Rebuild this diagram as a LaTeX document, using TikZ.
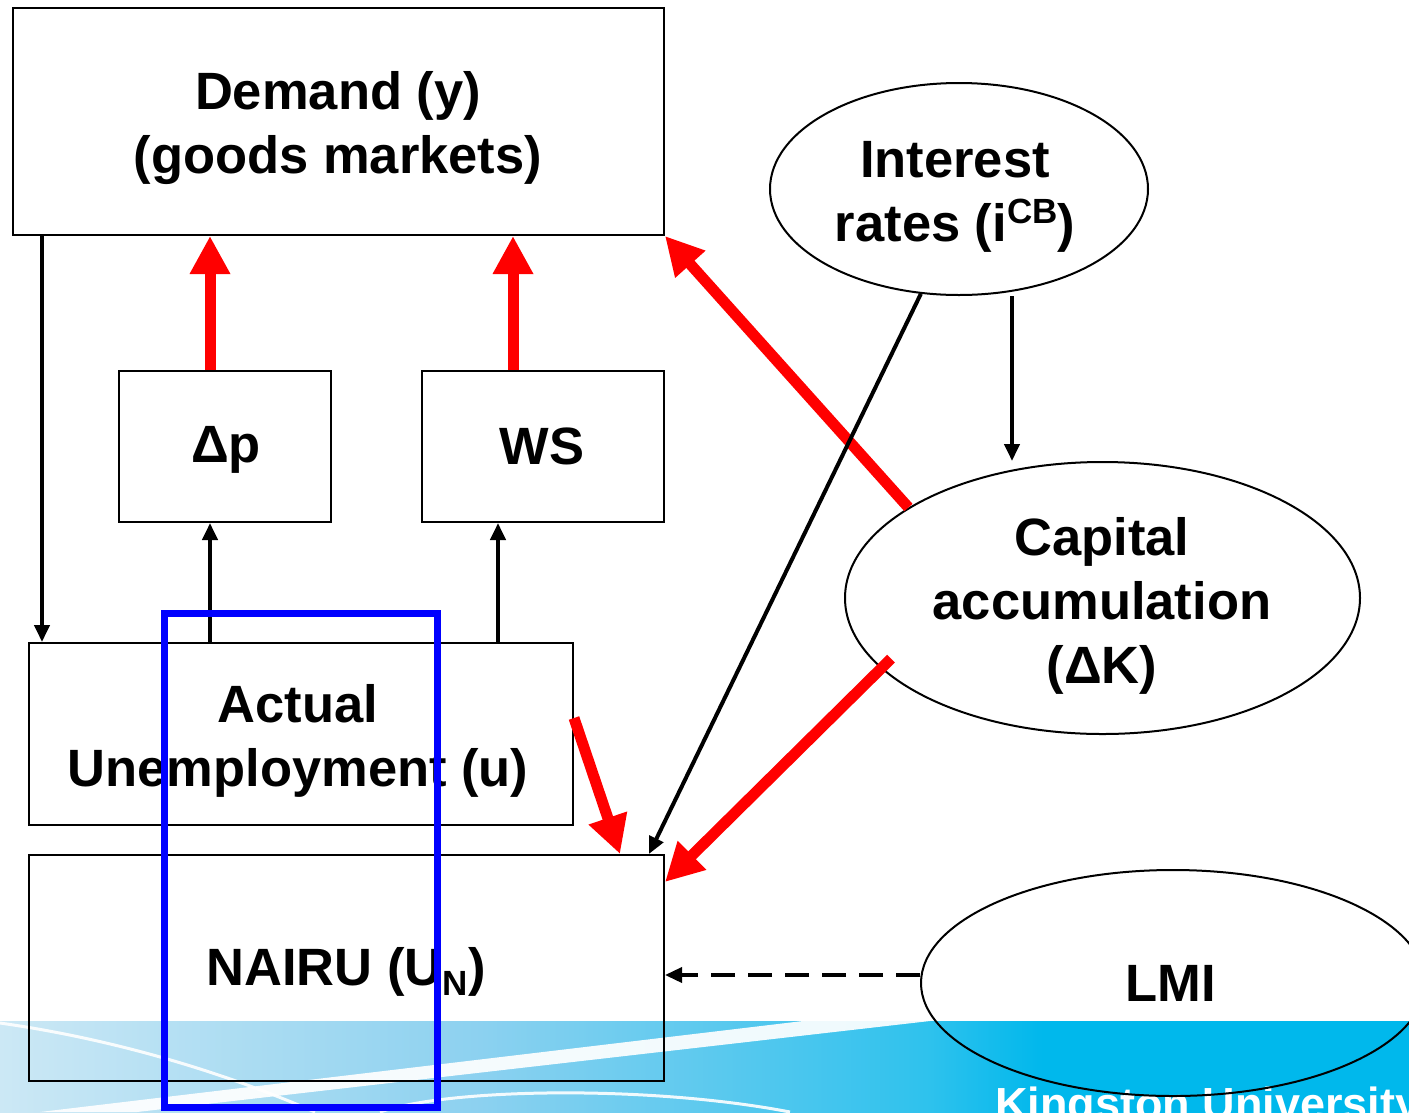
\documentclass[tikz,border=0pt]{standalone}
\usepackage{fontspec}
\setmainfont{Liberation Sans}
\usetikzlibrary{arrows.meta,shapes.geometric,calc}
\definecolor{kured}{RGB}{255,0,0}
\definecolor{kublue}{RGB}{0,0,255}
\pgfdeclarehorizontalshading{kuband}{100bp}{rgb(0bp)=(0.80,0.91,0.96); rgb(25bp)=(0.80,0.91,0.96); rgb(42bp)=(0.55,0.82,0.94); rgb(58bp)=(0.18,0.76,0.93); rgb(62bp)=(0,0.72,0.925); rgb(100bp)=(0,0.72,0.925)}
\begin{document}
\begin{tikzpicture}[x=1pt,y=-1pt,
  box/.style={draw=black,line width=2pt,inner sep=0pt},
  oval/.style={ellipse,draw=black,line width=2pt,inner sep=0pt},
  lbl/.style={font=\bfseries\fontsize{52.5}{64}\selectfont,align=center,inner sep=0pt},
  blk/.style={draw=black,line width=4pt,-{Triangle[length=17pt,width=15pt]}},
  redarrow/.style={draw=kured,line width=11pt,-{Triangle[length=38pt,width=38pt]}},
  swoosh/.style={draw=white,line width=3pt,opacity=0.9}
]
\useasboundingbox (0,0) rectangle (1409,1112);
\clip (0,0) rectangle (1409,1112);

% background band
\shade[shading=kuband] (0,1021) rectangle (1409,1112);
\draw[swoosh] (0,1023) .. controls (120,1040) and (230,1075) .. (315,1112);
\fill[white,opacity=0.92] (40,1112) -- (803,1021) -- (930,1021) -- (137,1112) -- cycle;
\draw[swoosh] (380,1112) .. controls (450,1088) and (650,1085) .. (790,1112);
\node[anchor=base west,text=white,font=\bfseries\fontsize{45}{50}\selectfont,inner sep=0pt] (ku) at (995,1119) {Kingston University};

% boxes
\node[box,minimum width=651pt,minimum height=227pt] (dem) at (338.5,121.5) {};
\node[box,minimum width=212pt,minimum height=151pt] (dp) at (225,446.5) {};
\node[box,minimum width=242pt,minimum height=151pt] (ws) at (543,446.5) {};
\node[box,minimum width=544pt,minimum height=182pt] (act) at (301,734) {};
\node[box,minimum width=635pt,minimum height=226pt] (nai) at (346.5,968) {};

% ellipses
\node[oval,minimum width=378pt,minimum height=212pt] (ir) at (959,189) {};
\node[oval,minimum width=515pt,minimum height=272pt] (cap) at (1102.5,598) {};
\node[oval,minimum width=504pt,minimum height=226pt] (lmi) at (1173,983) {};

% labels
\node[lbl] (demT) at (338,128.5) {Demand (y)\\(goods markets)};
\node[lbl] (irT) at (955,196.5) {Interest\\rates (i\raisebox{18pt}{\fontsize{35}{35}\selectfont CB})};
\node[lbl] (dpT) at (226,450) {Δp};
\node[lbl] (wsT) at (542,446) {WS};
\node[lbl] (capT) at (1102,605.5) {Capital\\accumulation\\(ΔK)};
\node[lbl] (actT) at (298,740.5) {Actual\\Unemployment (u)};
\node[lbl] (naiT) at (346,971.5) {NAIRU (U\raisebox{-10pt}{\fontsize{35}{35}\selectfont N})};
\node[lbl] (lmiT) at (1171,983.5) {LMI};

% red arrows
\coordinate (c1) at ([xshift=-15pt]dp.north);
\draw[redarrow] (c1) -- (c1 |- dem.south);
\coordinate (c2) at ([xshift=-30pt]ws.north);
\draw[redarrow] (c2) -- (c2 |- dem.south);
\draw[redarrow] (cap.155) -- (dem.south east);
\draw[redarrow] ($(cap.center)!0.93!(cap.196)$) -- ([yshift=-28pt]nai.north east);
\draw[redarrow] ([yshift=16pt]act.east) -- ([xshift=-45pt]nai.north east);

% black arrows
\draw[blk] ([xshift=30pt]dem.south west) -- ([xshift=14pt]act.north west);
\coordinate (c3) at ([xshift=-15pt]dp.south);
\draw[blk] (c3 |- act.north) -- (c3);
\coordinate (c4) at ([xshift=-45pt]ws.south);
\draw[blk] (c4 |- act.north) -- (c4);
\draw[blk] (ir.250) -- ([xshift=-16pt]nai.north east);
\coordinate (c5) at ([xshift=53pt]ir.south);
\draw[blk] (c5) -- (c5 |- cap.north);
\coordinate (c6) at ([yshift=8pt]lmi.west);
\draw[blk,line width=3.5pt,dash pattern=on 24pt off 13pt] (c6) -- (nai.east |- c6);

% blue highlight
\node[draw=kublue,line width=7pt,inner sep=0pt,minimum width=272.5pt,minimum height=494pt] (hl) at (300.75,860) {};
\end{tikzpicture}
\end{document}
